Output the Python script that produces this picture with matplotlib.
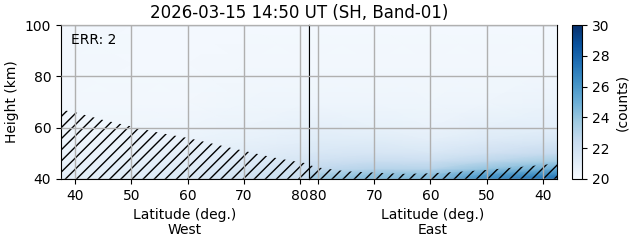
import matplotlib
matplotlib.use('Agg')
import matplotlib.pyplot as plt
import numpy as np

# turning point of the orbit (max latitude)
lat_max = 81.6

# heat map grid (counts)
heights = [40, 42, 44, 47, 50, 55, 60, 70, 85, 100]
west_lat = [37.5, 50, 60, 70, lat_max]
east_lat = [lat_max, 70, 60, 50, 37.5]

west_counts = [
    [21.0, 21.2, 21.5, 22.0, 22.5],
    [20.9, 21.1, 21.4, 21.8, 22.2],
    [20.8, 21.0, 21.2, 21.6, 22.0],
    [20.7, 20.9, 21.0, 21.3, 21.7],
    [20.6, 20.7, 20.9, 21.1, 21.4],
    [20.5, 20.6, 20.7, 20.8, 21.0],
    [20.4, 20.4, 20.5, 20.6, 20.8],
    [20.3, 20.3, 20.3, 20.4, 20.5],
    [20.3, 20.2, 20.2, 20.3, 20.3],
    [20.3, 20.2, 20.2, 20.2, 20.2],
]
east_counts = [
    [23.8, 24.5, 24.5, 26.5, 27.5],
    [23.2, 24.0, 24.0, 25.5, 26.5],
    [22.6, 23.0, 23.0, 24.0, 25.0],
    [22.0, 22.3, 22.2, 22.8, 23.5],
    [21.6, 21.7, 21.6, 22.0, 22.5],
    [21.2, 21.2, 21.0, 21.3, 21.6],
    [20.9, 20.8, 20.7, 20.9, 21.0],
    [20.5, 20.5, 20.4, 20.5, 20.6],
    [20.3, 20.3, 20.3, 20.3, 20.3],
    [20.2, 20.2, 20.2, 20.2, 20.2],
]

# hatched (no-data) region upper boundary
west_mask_lat = [37.5, 40, 45, 50, 55, 60, 65, 70, 75, 80, lat_max]
west_mask_top = [67, 66, 63, 60.5, 58, 56, 53.5, 51, 48.5, 46.5, 46]
east_mask_lat = [lat_max, 80, 75, 70, 65, 60, 55, 50, 45, 40, 37.5]
east_mask_top = [45.5, 44.5, 43, 42.5, 42, 42.2, 42.8, 43.5, 44.5, 45.5, 46]

lat_ticks = [40, 50, 60, 70, 80]

fig = plt.figure(figsize=(6.31, 2.43), dpi=100)
ax_w = fig.add_axes([0.0967, 0.2634, 0.393, 0.6336])
ax_e = fig.add_axes([0.4897, 0.2634, 0.393, 0.6336])
cax = fig.add_axes([0.9065, 0.2634, 0.0158, 0.6336])

norm = matplotlib.colors.Normalize(20, 30)
pc = ax_w.pcolormesh(west_lat, heights, np.array(west_counts),
                     shading='gouraud', cmap='Blues', norm=norm)
ax_e.pcolormesh(east_lat, heights, np.array(east_counts),
                shading='gouraud', cmap='Blues', norm=norm)

ax_w.fill_between(west_mask_lat, 40, west_mask_top, facecolor='none',
                  edgecolor='k', hatch='///', linewidth=0)
ax_e.fill_between(east_mask_lat, 40, east_mask_top, facecolor='none',
                  edgecolor='k', hatch='///', linewidth=0)

ax_w.set_xlim(37.5, lat_max)
ax_e.set_xlim(lat_max, 37.5)
for ax in (ax_w, ax_e):
    ax.set_ylim(40, 100)
    ax.set_xticks(lat_ticks)
    ax.set_yticks([40, 60, 80, 100])
    ax.grid(True, color='#b0b0b0', linewidth=1)
    ax.set_axisbelow(False)

ax_e.tick_params(axis='y', left=False, labelleft=False)
ax_w.set_ylabel('Height (km)')
ax_w.set_xlabel('Latitude (deg.)\nWest', labelpad=4, linespacing=1.1)
ax_e.set_xlabel('Latitude (deg.)\nEast', labelpad=4, linespacing=1.1)
ax_w.text(0.04, 0.9, 'ERR: 2', transform=ax_w.transAxes, ha='left', va='center')

fig.text(0.474, 0.948, '2026-03-15 14:50 UT (SH, Band-01)',
         ha='center', va='center', fontsize=12)

cb = fig.colorbar(pc, cax=cax)
cb.set_ticks([20, 22, 24, 26, 28, 30])
cb.set_label('(counts)')

fig.savefig('out.png', dpi=100)
